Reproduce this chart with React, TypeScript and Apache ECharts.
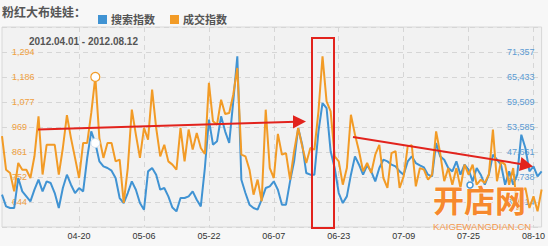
import React, { useEffect, useRef } from 'react';
import * as echarts from 'echarts';

const titleText = '粉红大布娃娃：';
const seriesNames = ['搜索指数', '成交指数'];
const dateRangeText = '2012.04.01 - 2012.08.12';
const dayCount = 134;
const dates: string[] = Array.from({ length: dayCount }, (_, i) => {
  const d = new Date(Date.UTC(2012, 3, 1 + i));
  return `${String(d.getUTCMonth() + 1).padStart(2, '0')}-${String(d.getUTCDate()).padStart(2, '0')}`;
});
const xTickDates = ['04-20', '05-06', '05-22', '06-07', '06-23', '07-09', '07-25', '08-10'];
const leftTickLabels = [644, 752, 861, 969, 1077, 1186, 1294];
const rightTickLabels = [35814, 41738, 47661, 53585, 59509, 65433, 71357];
const hoverIndex = 23;

// 搜索指数 (right axis)
const searchIndex = [
  37545, 34780, 34385, 34385, 41495, 38335, 37150, 35965, 38730, 41100,
  38335, 40700, 40310, 37940, 34385, 39120, 42285, 39915, 37940, 39120,
  38335, 46235, 52555, 49790, 45445, 44260, 43865, 43233, 41495, 36755,
  35570, 37940, 40700, 38730, 35570, 33990, 43075, 43865, 42285, 38730,
  39120, 37150, 34500, 33595, 36755, 36755, 37150, 38335, 36360, 34780,
  43865, 55320, 49395, 50185, 56110, 52555, 49790, 59665, 70330, 41100,
  37940, 35175, 34385, 33990, 36360, 39120, 39515, 40705, 38730, 35175,
  35175, 40705, 45445, 53345, 49395, 42680, 42285, 42285, 52555, 59270,
  58085, 47815, 43865, 37940, 35570, 37150, 42285, 46630, 44655, 42285,
  44500, 43075, 40705, 43865, 45840, 45445, 44655, 44260, 43075, 42285,
  45445, 46630, 45050, 44500, 44020, 42285, 41890, 49790, 46630, 45840,
  43865, 43075, 45445, 42285, 44655, 43470, 40705, 43865, 42285, 39915,
  42285, 47025, 45840, 44655, 39915, 43075, 39915, 42285, 51765, 48605,
  43075, 44260, 41890, 43075,
];

// 成交指数 (left axis)
const dealIndex = [
  929, 784, 770, 690, 813, 784, 784, 748, 842, 1015,
  763, 892, 892, 892, 763, 878, 1020, 921, 835, 748,
  900, 900, 1030, 1186, 921, 835, 900, 900, 820, 828,
  640, 791, 1044, 936, 835, 965, 914, 1131, 965, 842,
  892, 820, 806, 784, 965, 820, 958, 871, 943, 878,
  852, 1160, 994, 979, 1087, 1025, 1030, 1109, 1225, 849,
  842, 784, 676, 741, 647, 1044, 791, 748, 939, 849,
  856, 741, 864, 965, 885, 813, 878, 871, 1037, 1275,
  1080, 1037, 842, 820, 719, 791, 1022, 936, 864, 777,
  813, 770, 849, 892, 748, 705, 856, 864, 705, 755,
  885, 890, 712, 791, 784, 741, 763, 950, 856, 734,
  791, 719, 791, 705, 806, 763, 806, 719, 741, 727,
  763, 958, 734, 820, 806, 719, 791, 611, 690, 705,
  618, 669, 604, 698,
];

const BLUE = '#4093d3';
const ORANGE = '#f29b26';
const RED = '#e2231d';
const FONT = '"Liberation Sans", Arial, "Noto Sans CJK SC", sans-serif';

function axisRange(labels: number[]) {
  const step = (labels[labels.length - 1] - labels[0]) / (labels.length - 1);
  return { min: labels[0] - step, max: labels[labels.length - 1] + step, interval: step };
}
function nearestLabel(labels: number[], v: number, step: number) {
  let best = '';
  for (const l of labels) if (Math.abs(l - v) < step / 2) best = l.toLocaleString('en-US');
  return best;
}

export default function App() {
  const ref = useRef<HTMLDivElement>(null);
  useEffect(() => {
    if (!ref.current) return;
    const chart = echarts.init(ref.current, null, { renderer: 'svg' });
    const L = axisRange(leftTickLabels);
    const R = axisRange(rightTickLabels);
    const showTick = (_i: number, v: string) => xTickDates.includes(v);
    const dashed = { color: '#d6d6d6', type: [5, 4] as any, width: 1 };
    chart.setOption({
      animation: false,
      backgroundColor: '#f7f7f7',
      textStyle: { fontFamily: FONT },
      legend: {
        data: seriesNames,
        left: 93,
        top: 9,
        icon: 'rect',
        itemWidth: 9,
        itemHeight: 9,
        itemGap: 15,
        textStyle: { fontSize: 11, fontWeight: 'bold', color: '#555', fontFamily: FONT, padding: [0, 0, 0, -1] },
      },
      grid: {
        left: 2, top: 27, width: 540, height: 200, show: true,
        backgroundColor: '#f2f2f2', borderColor: '#d8d8d8', borderWidth: 1,
      },
      xAxis: {
        type: 'category',
        data: dates,
        boundaryGap: false,
        axisLine: { show: false },
        axisTick: { show: false },
        axisLabel: { interval: showTick, color: '#333', fontSize: 9, margin: 4, fontFamily: FONT },
        splitLine: { show: true, interval: showTick, lineStyle: dashed },
      },
      yAxis: [
        {
          type: 'value', position: 'left', min: L.min, max: L.max, interval: L.interval,
          axisLine: { show: false }, axisTick: { show: false },
          axisLabel: {
            inside: true, margin: 10, color: '#f0a040', fontSize: 9, fontFamily: FONT,
            showMinLabel: false, showMaxLabel: false,
            formatter: (v: number) => nearestLabel(leftTickLabels, v, L.interval),
          },
          splitLine: { show: true, lineStyle: dashed },
        },
        {
          type: 'value', position: 'right', min: R.min, max: R.max, interval: R.interval,
          axisLine: { show: false }, axisTick: { show: false },
          axisLabel: {
            inside: true, margin: 7, color: '#5b9bd2', fontSize: 9, fontFamily: FONT,
            showMinLabel: false, showMaxLabel: false,
            formatter: (v: number) => nearestLabel(rightTickLabels, v, R.interval),
          },
          splitLine: { show: false },
        },
      ],
      series: [
        {
          name: seriesNames[0], type: 'line', yAxisIndex: 1, data: searchIndex,
          showSymbol: false, color: BLUE, lineStyle: { width: 2, color: BLUE },
          markPoint: {
            silent: true,
            data: [{
              coord: [dates[hoverIndex], searchIndex[hoverIndex]], symbol: 'circle', symbolSize: 9,
              itemStyle: { color: '#fff', borderColor: '#cfe0ef', borderWidth: 1 }, label: { show: false },
            }],
          },
        },
        {
          name: seriesNames[1], type: 'line', yAxisIndex: 0, data: dealIndex,
          showSymbol: false, color: ORANGE, lineStyle: { width: 2, color: ORANGE },
          markPoint: {
            silent: true,
            data: [{
              coord: [dates[hoverIndex], dealIndex[hoverIndex]], symbol: 'circle', symbolSize: 9,
              itemStyle: { color: '#fff', borderColor: ORANGE, borderWidth: 1.2 }, label: { show: false },
            }],
          },
        },
      ],
      graphic: [
        {
          type: 'text', x: 2, y: 13, z: 100,
          style: { text: titleText, fill: '#555', font: `bold 12px ${FONT}`, textVerticalAlign: 'middle' },
        },
        {
          type: 'text', x: 29, y: 41, z: 100,
          style: { text: dateRangeText, fill: '#555', font: `bold 10px ${FONT}`, textVerticalAlign: 'middle' },
        },
        { type: 'line', z: 100, shape: { x1: 38, y1: 129.5, x2: 296, y2: 121.8 }, style: { stroke: RED, lineWidth: 2 } },
        { type: 'polygon', z: 100, shape: { points: [[293, 115.2], [306, 121.5], [293, 128.4]] }, style: { fill: RED } },
        { type: 'rect', z: 100, shape: { x: 312, y: 38, width: 22, height: 190 }, style: { fill: 'none', stroke: RED, lineWidth: 2 } },
        { type: 'line', z: 100, shape: { x1: 353, y1: 137, x2: 522, y2: 164.2 }, style: { stroke: RED, lineWidth: 2 } },
        { type: 'polygon', z: 100, shape: { points: [[519, 171], [533, 166.5], [521.4, 157]] }, style: { fill: RED } },
        {
          type: 'text', x: 433, y: 198, z: 110,
          style: { text: '开店网', fill: '#f6892e', font: `bold 31px "Noto Sans CJK SC", sans-serif`, textVerticalAlign: 'middle', stroke: '#fff', lineWidth: 1 },
        },
        { type: 'circle', z: 111, shape: { cx: 470, cy: 185, r: 3 }, style: { fill: '#fff', stroke: BLUE, lineWidth: 1.5 } },
        {
          type: 'text', x: 433, y: 226.5, z: 110,
          style: { text: 'KAIGEWANGDIAN.CN', fill: '#f59a50', font: `9.6px ${FONT}`, textVerticalAlign: 'middle' },
        },
      ],
    });
    return () => chart.dispose();
  }, []);
  return <div ref={ref} style={{ position: 'fixed', left: 0, top: 0, width: 548, height: 246 }} />;
}
